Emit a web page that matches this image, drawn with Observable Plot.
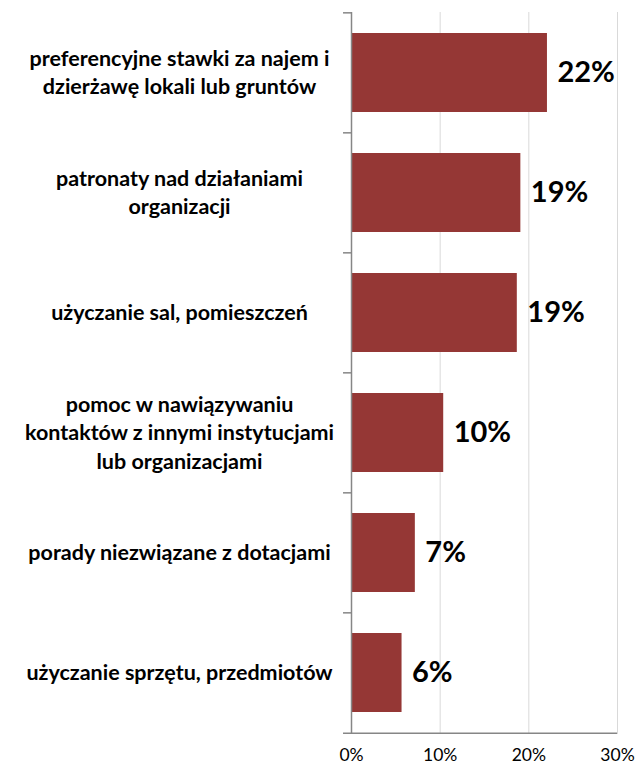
<!DOCTYPE html>
<html>
<head>
<meta charset="utf-8">
<script src="https://cdn.jsdelivr.net/npm/d3@7"></script>
<script src="https://cdn.jsdelivr.net/npm/@observablehq/plot@0.6"></script>
<style>
  body { margin: 0; background: #fff; }
  #chart svg { display: block; }
</style>
</head>
<body>
<div id="chart"></div>
<script>
const categories = [
  "preferencyjne stawki za najem i\ndzierżawę lokali lub gruntów",
  "patronaty nad działaniami\norganizacji",
  "użyczanie sal, pomieszczeń",
  "pomoc w nawiązywaniu\nkontaktów z innymi instytucjami\nlub organizacjami",
  "porady niezwiązane z dotacjami",
  "użyczanie sprzętu, przedmiotów"
];
const values = [22.1, 19.1, 18.7, 10.4, 7.2, 5.7];
const valueLabels = ["22%", "19%", "19%", "10%", "7%", "6%"];
const xTicks = [0, 10, 20, 30];
const xTickLabels = ["0%", "10%", "20%", "30%"];

const data = categories.map((c, i) => ({cat: c, value: values[i], label: valueLabels[i]}));

const W = 635, H = 769;
const mL = 351, mR = 18, mT = 12, mB = 35;
const step = (H - mT - mB) / categories.length;
const padInner = 0.34;
const bw = step * (1 - padInner);
const font = "Lato, 'Open Sans', sans-serif";
const axisColor = "#868686";
const lastCat = categories[categories.length - 1];
const labelRight = 331; // right edge of category label blocks (px)

const chart = Plot.plot({
  width: W,
  height: H,
  marginLeft: mL,
  marginRight: mR,
  marginTop: mT,
  marginBottom: mB,
  style: {fontFamily: font, background: "#fff"},
  x: {domain: [0, 30], axis: null},
  y: {domain: categories, paddingInner: padInner, paddingOuter: padInner / 2, axis: null},
  marks: [
    Plot.ruleX(xTicks.slice(1), {stroke: "#d9d9d9", strokeWidth: 1}),
    Plot.barX(data, {x: "value", y: "cat", fill: "#953735"}),
    // y axis line
    Plot.ruleX([0], {stroke: axisColor, strokeWidth: 1.5}),
    // x axis line
    Plot.ruleY([lastCat], {x1: -0.9, x2: 30, dy: step / 2, stroke: axisColor, strokeWidth: 1.5}),
    // band boundary ticks on the y axis
    Plot.ruleY(categories, {y: d => d, x1: -0.9, x2: 0, dy: -step / 2, stroke: axisColor, strokeWidth: 1.5}),
    // x tick marks below the axis
    Plot.ruleX(xTicks, {y: lastCat, dy: step / 2 + bw / 2, insetBottom: bw - 5, stroke: axisColor, strokeWidth: 1.5}),
    // value labels
    Plot.text(data, {x: "value", y: "cat", text: "label", dx: 10, textAnchor: "start", fontSize: 29, fontWeight: "bold", fill: "#000"}),
    // category labels
    Plot.text(data, {y: "cat", text: "cat", frameAnchor: "left", dx: -172, dy: -2, textAnchor: "middle", fontSize: 21.5, fontWeight: "bold", lineHeight: 1.33, fill: "#000", ariaLabel: "category-labels"}),
    // x tick labels
    Plot.text(xTicks, {x: d => d, text: (d, i) => xTickLabels[i], frameAnchor: "bottom", dy: 26, fontSize: 17.5, fill: "#000"})
  ]
});

document.getElementById("chart").appendChild(chart);

// right-align each label block, keeping its lines centred within the block
d3.select(chart).selectAll('g[aria-label="category-labels"] text').each(function() {
  const w = this.getBBox().width;
  const t = this.getAttribute("transform") || "";
  const m = t.match(/translate\(([-\d.]+),\s*([-\d.]+)\)/);
  if (m) {
    const y = +m[2];
    this.setAttribute("transform", `translate(${labelRight - w / 2},${y})`);
  }
});
</script>
</body>
</html>
